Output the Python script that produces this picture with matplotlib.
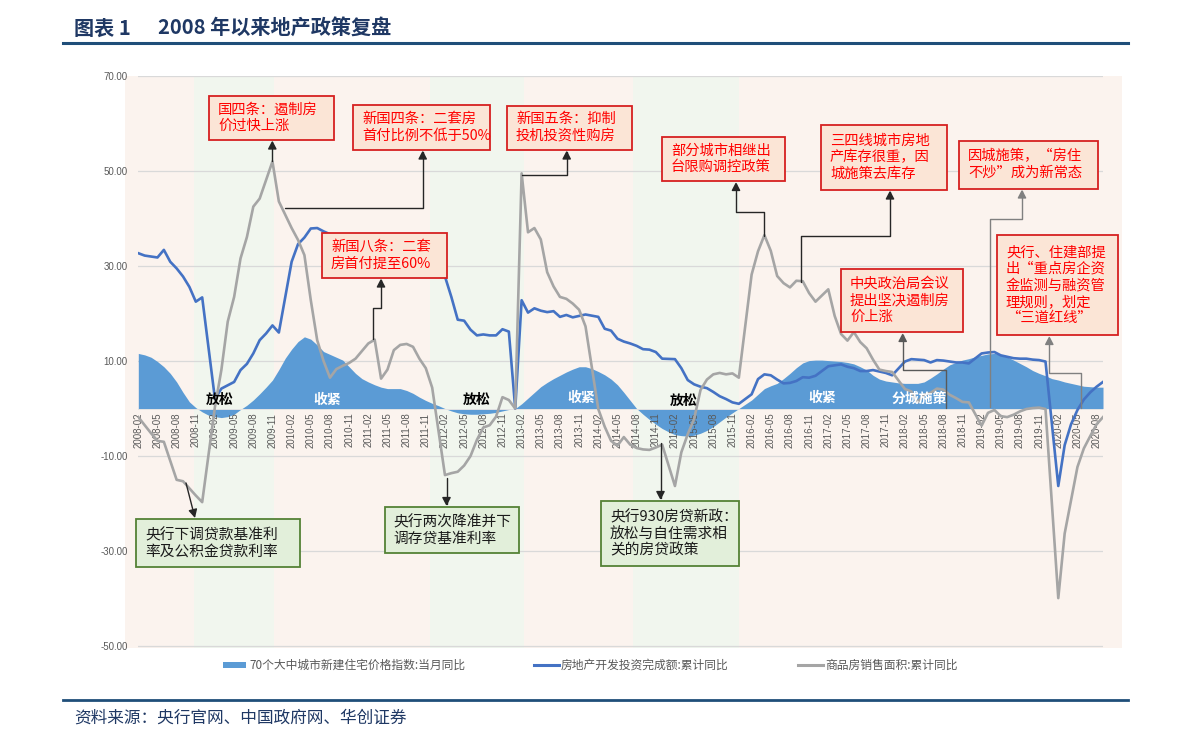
import numpy as np
import matplotlib
matplotlib.use('Agg')
import matplotlib.pyplot as plt
from matplotlib.patches import Rectangle, FancyArrowPatch
from matplotlib.path import Path
from matplotlib.lines import Line2D

plt.rcParams['font.family'] = ['Noto Sans CJK SC', 'DejaVu Sans']

W, H = 1191, 746

# 月份 2008-02 ~ 2020-09
months = ([f'2008-{m:02d}' for m in range(2, 13)] +
          [f'{y}-{m:02d}' for y in range(2009, 2020) for m in range(1, 13)] +
          [f'2020-{m:02d}' for m in range(1, 10)])

# 70个大中城市新建住宅价格指数:当月同比
price_yoy = [
    11.6, 11.3, 10.8, 9.9, 8.8, 7.4, 5.6, 3.4, 1.4, 0.2, -0.7,                # 2008
    -1.4, -1.7, -1.9, -1.7, -1.2, -0.2, 0.7, 1.8, 3.1, 4.5, 6.0, 8.2,        # 2009
    10.6, 12.5, 14.1, 15.1, 14.6, 13.4, 12.0, 11.4, 10.8, 10.2, 8.8, 7.4,    # 2010
    6.3, 5.6, 5.0, 4.5, 4.2, 4.2, 4.2, 3.8, 3.2, 2.4, 1.7, 1.1,              # 2011
    0.6, 0.0, -0.5, -0.9, -1.1, -1.2, -1.2, -1.1, -1.0, -0.8, -0.5, -0.2,    # 2012
    0.0, 1.0, 2.2, 3.4, 4.6, 5.5, 6.3, 7.0, 7.7, 8.3, 8.8, 8.8,              # 2013
    8.4, 7.8, 7.1, 6.2, 5.0, 3.4, 1.7, 0.0, -1.2, -2.3, -3.3, -4.2,          # 2014
    -4.9, -5.5, -5.7, -5.8, -5.6, -5.2, -4.6, -3.8, -2.8, -1.8, -0.9, 0.0,   # 2015
    0.9, 1.8, 3.0, 4.2, 4.8, 5.3, 6.3, 7.4, 8.6, 9.6, 10.1, 10.2,            # 2016
    10.2, 10.1, 10.0, 9.9, 9.7, 9.4, 8.8, 8.1, 7.0, 6.2, 5.8, 5.6,           # 2017
    5.4, 5.3, 5.3, 5.3, 5.6, 6.4, 7.3, 8.3, 9.2, 9.7, 10.2, 10.5,            # 2018
    10.9, 11.2, 11.5, 11.6, 11.4, 10.9, 10.2, 9.5, 8.8, 8.0, 7.4, 6.9,       # 2019
    6.3, 6.0, 5.6, 5.3, 5.0, 4.7, 4.6, 4.5, 4.5,                             # 2020
]

# 房地产开发投资完成额:累计同比（1月无数据）
invest_yoy = [
    32.7, 32.2, 32.0, 31.8, 33.4, 30.9, 29.5, 27.8, 25.6, 22.5, 23.4,
    None, 2.0, 4.2, 4.9, 5.6, 8.1, 9.4, 11.6, 14.4, 15.8, 17.5, 16.0,
    None, 30.9, 34.6, 36.0, 37.9, 38.0, 37.3, 36.7, 36.4, 36.5, 36.3, 33.2,
    None, 35.2, 34.1, 34.3, 34.6, 32.9, 33.6, 33.2, 32.0, 31.1, 29.9, 27.9,
    None, 27.8, 23.5, 18.7, 18.5, 16.6, 15.4, 15.6, 15.4, 15.4, 16.7, 16.2,
    0.0, 22.8, 20.2, 21.1, 20.6, 20.3, 20.5, 19.3, 19.7, 19.2, 19.5, 19.8,
    None, 19.3, 16.8, 16.4, 14.7, 14.1, 13.7, 13.2, 12.5, 12.4, 11.9, 10.5,
    None, 10.4, 8.5, 6.0, 5.1, 4.6, 4.3, 3.5, 2.6, 2.0, 1.3, 1.0,
    None, 3.0, 6.2, 7.2, 7.0, 6.1, 5.3, 5.4, 5.8, 6.6, 6.5, 6.9,
    None, 8.9, 9.1, 9.3, 8.8, 8.5, 7.9, 7.9, 8.1, 7.8, 7.5, 7.0,
    None, 9.9, 10.4, 10.3, 10.2, 9.7, 10.2, 10.1, 9.9, 9.7, 9.7, 9.5,
    None, 11.6, 11.8, 11.9, 11.2, 10.9, 10.6, 10.5, 10.5, 10.3, 10.2, 9.9,
    None, -16.3, -7.7, -3.3, -0.3, 1.9, 3.4, 4.6, 5.6,
]

# 商品房销售面积:累计同比
sales_yoy = [
    -1.8, -3.5, -5.2, -6.8, -7.0, -11.0, -15.0, -15.3, -16.8, -18.3, -19.7,
    None, 0.4, 8.1, 18.3, 23.5, 31.6, 36.1, 42.5, 44.2, 48.1, 52.0, 43.6,
    None, 38.0, 35.5, 32.3, 22.8, 14.4, 10.0, 6.5, 8.3, 9.0, 9.6, 10.5,
    None, 13.7, 14.5, 6.3, 8.2, 12.3, 13.4, 13.6, 13.0, 10.5, 8.5, 4.4,
    None, -14.0, -13.6, -13.3, -12.0, -10.0, -6.6, -4.0, -3.5, -1.7, 2.4, 1.8,
    0.0, 49.5, 37.1, 38.0, 35.6, 28.7, 25.7, 23.5, 23.1, 22.1, 20.8, 17.3,
    None, -0.1, -3.8, -6.8, -7.8, -6.0, -7.6, -8.3, -8.6, -8.7, -8.2, -7.6,
    None, -16.3, -9.2, -5.4, -2.2, 3.9, 6.1, 7.2, 7.5, 7.2, 7.4, 6.5,
    None, 28.2, 33.1, 36.5, 33.2, 27.9, 26.4, 25.5, 26.9, 26.8, 24.3, 22.5,
    None, 25.1, 19.5, 15.7, 14.3, 16.1, 14.0, 12.7, 10.3, 8.2, 7.9, 7.7,
    None, 4.1, 3.6, 1.3, 2.9, 3.3, 4.2, 4.0, 2.9, 2.2, 1.4, 1.3,
    None, -3.6, -0.9, -0.3, -1.6, -1.8, -1.3, -0.6, -0.1, 0.1, 0.2, -0.1,
    None, -39.9, -26.3, -19.3, -12.3, -8.4, -5.8, -3.3, -1.8,
]

# 政策周期背景（月序号边界）
band_edges = [-2.1, 8.67, 21.3, 45.6, 60.45, 77.4, 94.1, 154.0]
band_colors = ['#FBF3EE', '#F1F6EE'] * 4

band_labels = [('放松', 12.7, 1.8, 'black'), ('收紧', 29.5, 1.8, 'white'),
               ('放松', 52.9, 1.9, 'black'), ('收紧', 69.3, 2.3, 'white'),
               ('放松', 85.3, 1.6, 'black'), ('收紧', 107.1, 2.3, 'white'),
               ('分城施策', 122.3, 2.1, 'white')]

legend_names = ['70个大中城市新建住宅价格指数:当月同比', '房地产开发投资完成额:累计同比',
                '商品房销售面积:累计同比']


def fx(px):
    return px / W


def fy(py):
    return 1 - py / H


fig = plt.figure(figsize=(W / 100, H / 100), dpi=100)
ax = fig.add_axes([fx(138.3), fy(648), (1103 - 138.3) / W, (648 - 76) / H])
ax.patch.set_visible(False)

x = np.arange(len(months))
price = np.array(price_yoy, dtype=float)
invest = np.array([np.nan if v is None else v for v in invest_yoy])
sales = np.array([np.nan if v is None else v for v in sales_yoy])

for k in range(len(band_edges) - 1):
    ax.axvspan(band_edges[k], band_edges[k + 1], color=band_colors[k], lw=0,
               zorder=0.1, clip_on=False)

yt = [-50, -30, -10, 10, 30, 50, 70]
for v in yt:
    ax.axhline(v, color='#D9D9D9', lw=0.9, zorder=0.6)

ax.fill_between(x, price, 0, color='#5B9BD5', lw=0, zorder=1)
ax.axhline(0, color='#E3E3E3', lw=0.7, zorder=1.2)

ok = ~np.isnan(invest)
ax.plot(x[ok], invest[ok], color='#4472C4', lw=1.9, zorder=2)
ok = ~np.isnan(sales)
ax.plot(x[ok], sales[ok], color='#A5A5A5', lw=1.9, zorder=2.1)

for txt, xi, yv, c in band_labels:
    ax.text(xi, yv, txt, ha='center', va='center', fontsize=10,
            fontweight='bold', color=c, zorder=3)

ax.set_xlim(0, len(months) - 1)
ax.set_ylim(-50.4, 70)
ax.set_yticks(yt)
ax.set_yticklabels([f'{v:.2f}' for v in yt])
ax.set_xticks(x[::3])
ax.set_xticklabels(months[::3])
for s in ax.spines.values():
    s.set_visible(False)
ax.spines['bottom'].set_position(('data', 0))
ax.set_axisbelow('line')
ax.tick_params(axis='x', length=0, pad=3, labelrotation=90, labelsize=7,
               labelcolor='#595959')
ax.tick_params(axis='y', length=0, pad=7.8, labelsize=7, labelcolor='#595959')
for lbl in ax.get_xticklabels() + ax.get_yticklabels():
    lbl.set_fontfamily('Liberation Sans')

# 注释框
red_boxes = [
    ((209, 96, 334, 139.5), '国四条：遏制房\n价过快上涨'),
    ((353, 105, 490, 149.5), '新国四条：二套房\n首付比例不低于50%'),
    ((322, 233, 447, 277.5), '新国八条：二套\n房首付提至60%'),
    ((507, 105.5, 632, 149.5), '新国五条：抑制\n投机投资性购房'),
    ((662, 137, 785, 181), '部分城市相继出\n台限购调控政策'),
    ((821, 125, 947, 189.5), '三四线城市房地\n产库存很重，因\n城施策去库存'),
    ((959, 141, 1098, 188.5), '因城施策，“房住\n不炒”成为新常态'),
    ((841, 268.5, 963, 332), '中央政治局会议\n提出坚决遏制房\n价上涨'),
    ((997, 235.5, 1118, 335), '央行、住建部提\n出“重点房企资\n金监测与融资管\n理规则，划定\n“三道红线”'),
]
green_boxes = [
    ((136, 519, 300, 567), '央行下调贷款基准利\n率及公积金贷款利率'),
    ((384.5, 507, 518.5, 553), '央行两次降准并下\n调存贷基准利率'),
    ((601, 501, 739, 566), '央行930房贷新政：\n放松与自住需求相\n关的房贷政策'),
]
connectors = [
    ([(272.3, 161), (272.3, 140.5)], '#262626'),
    ([(285, 207.7), (422.7, 207.7), (422.7, 150.5)], '#262626'),
    ([(373.3, 339.3), (373.3, 308.3), (381, 308.3), (381, 278.5)], '#262626'),
    ([(521.7, 175), (566.7, 175), (566.7, 150.5)], '#262626'),
    ([(764.3, 236), (764.3, 211.7), (736, 211.7), (736, 182)], '#262626'),
    ([(800.7, 281.7), (800.7, 236), (890, 236), (890, 190.5)], '#262626'),
    ([(990, 407), (990, 219.3), (1022, 219.3), (1022, 189.5)], '#808080'),
    ([(945.7, 408), (945.7, 370), (902.7, 370), (902.7, 333)], '#595959'),
    ([(1080.7, 408), (1080.7, 372.7), (1049.3, 372.7), (1049.3, 336)], '#808080'),
    ([(186, 483), (195, 518)], '#262626'),
    ([(446.5, 478), (446.5, 506)], '#262626'),
    ([(660.5, 443), (660.5, 500)], '#262626'),
]


def draw_box(rect, text, fc, ec, tc, fs):
    x0, y0, x1, y1 = rect
    fig.add_artist(Rectangle((fx(x0), fy(y1)), fx(x1) - fx(x0), fy(y0) - fy(y1),
                             transform=fig.transFigure, fc=fc, ec=ec, lw=1.3,
                             zorder=5))
    fig.text(fx(x0 + 9), fy((y0 + y1) / 2), text, fontsize=fs, color=tc,
             ha='left', va='center', linespacing=1.22, zorder=6)


for rect, txt in red_boxes:
    draw_box(rect, txt, '#FBE5D6', '#D62020', '#FF0000', 10.3)
for rect, txt in green_boxes:
    draw_box(rect, txt, '#E2EFDA', '#548235', '#1A1A1A', 10.6)

for pts, c in connectors:
    verts = [(fx(a), fy(b)) for a, b in pts]
    fig.add_artist(FancyArrowPatch(path=Path(verts),
                                   arrowstyle='-|>,head_length=5,head_width=2.6',
                                   mutation_scale=1, color=c, lw=1.0,
                                   transform=fig.transFigure, zorder=4))

# 图例
fig.add_artist(Rectangle((fx(223), fy(668)), fx(246) - fx(223), fy(662) - fy(668),
                         transform=fig.transFigure, fc='#5B9BD5', ec='none'))
fig.add_artist(Line2D([fx(534), fx(558.5)], [fy(665)] * 2, color='#4472C4', lw=2.2))
fig.add_artist(Line2D([fx(798), fx(823)], [fy(665)] * 2, color='#A5A5A5', lw=2.2))
for px, name in zip([249, 561, 825], legend_names):
    fig.text(fx(px), fy(665), name, fontsize=8.5, color='#595959', va='center')

# 标题与来源
fig.text(fx(74), fy(28), '图表 1', fontsize=14.5, fontweight='bold',
         color='#1F3864', va='center')
fig.text(fx(158), fy(28), '2008 年以来地产政策复盘', fontsize=14.5,
         fontweight='bold', color='#1F3864', va='center')
fig.add_artist(Line2D([fx(63), fx(1128)], [fy(42.5)] * 2, color='#1F4E79', lw=2.2))
fig.add_artist(Line2D([fx(63), fx(1128)], [fy(700)] * 2, color='#1F4E79', lw=2.0))
fig.text(fx(74), fy(718), '资料来源：央行官网、中国政府网、华创证券', fontsize=12,
         color='#1F3864', va='center', style='italic')

fig.savefig('out.png', dpi=100, facecolor='white')
